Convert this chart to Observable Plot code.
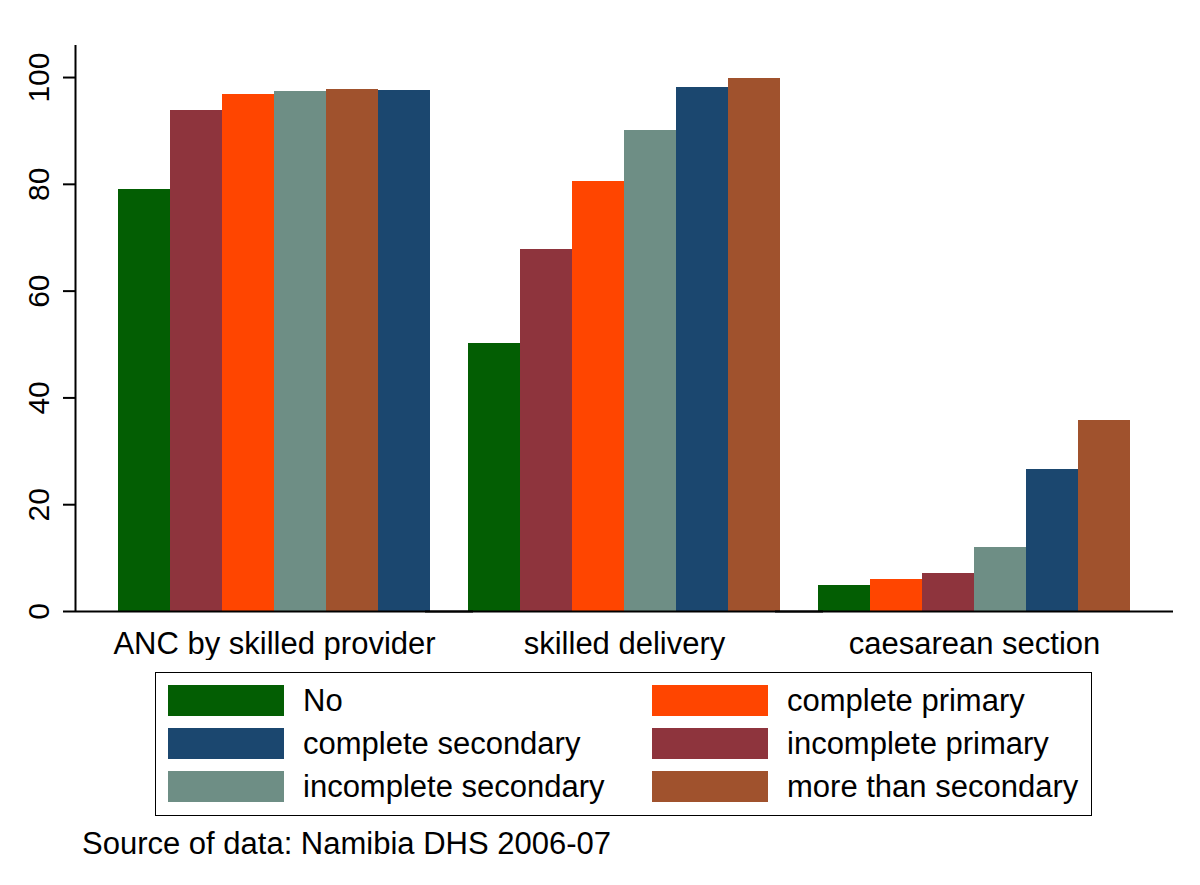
<!DOCTYPE html>
<html>
<head>
<meta charset="utf-8">
<script src="https://cdn.jsdelivr.net/npm/d3@7"></script>
<script src="https://cdn.jsdelivr.net/npm/@observablehq/plot@0.6"></script>
<style>
  body { margin: 0; background: #fff; font-family: "Liberation Sans", Arial, sans-serif; }
  #wrap { position: relative; width: 1200px; height: 885px; background: #fff; }
  #chart { position: absolute; left: 0; top: 0; }
  #legend {
    position: absolute; left: 155px; top: 672px; width: 937px; height: 144px;
    box-sizing: border-box; border: 1.5px solid #000;
    display: grid; grid-template-columns: 484px 440px; grid-auto-rows: 31px;
    row-gap: 12px; padding: 12px 0 0 12px;
  }
  .item { display: flex; align-items: center; font-size: 31px; color: #000; white-space: nowrap; }
  .sw { width: 116px; height: 31px; margin-right: 19px; flex: none; }
  #source { position: absolute; left: 82px; top: 826px; font-size: 31px; color: #000; white-space: nowrap; }
</style>
</head>
<body>
<div id="wrap">
  <div id="chart"></div>
  <div id="legend"></div>
  <div id="source">Source of data: Namibia DHS 2006-07</div>
</div>
<script>
// Categories (groups on the x axis)
const groups = ["ANC by skilled provider", "skilled delivery", "caesarean section"];
// Education levels (series)
const levels = ["No", "incomplete primary", "complete primary", "incomplete secondary", "complete secondary", "more than secondary"];
const levelColors = ["#035e03", "#8e343d", "#ff4500", "#6e8e85", "#1b476f", "#a0522d"];
// Values (%) per level, in the order of `levels`
const ancValues = [79.1, 93.9, 96.8, 97.4, 97.5, 97.7];
const deliveryValues = [50.2, 67.8, 80.5, 90.0, 98.1, 99.9];
const caesareanValues = [4.8, 7.1, 6.0, 12.0, 26.6, 35.7];
// Order of the bars within each group (as drawn, left to right)
const ancOrder = ["No", "incomplete primary", "complete primary", "incomplete secondary", "more than secondary", "complete secondary"];
const deliveryOrder = ["No", "incomplete primary", "complete primary", "incomplete secondary", "complete secondary", "more than secondary"];
const caesareanOrder = ["No", "complete primary", "incomplete primary", "incomplete secondary", "complete secondary", "more than secondary"];
// Legend order (row by row, two columns)
const legendOrder = ["No", "complete primary", "complete secondary", "incomplete primary", "incomplete secondary", "more than secondary"];
// Y tick labels
const yTicks = [0, 20, 40, 60, 80, 100];
const yMax = 106;

const seriesByGroup = [ancValues, deliveryValues, caesareanValues];
const orderByGroup = [ancOrder, deliveryOrder, caesareanOrder];
const rows = groups.flatMap((g, gi) => levels.map((l, li) => ({
  group: g, level: l, value: seriesByGroup[gi][li], pos: orderByGroup[gi].indexOf(l)
})));

const FONT = '"Liberation Sans", Arial, sans-serif';

const chart = Plot.plot({
  width: 1200,
  height: 660,
  marginTop: 45,
  marginBottom: 49,
  marginLeft: 117,
  marginRight: 69,
  style: { fontFamily: FONT, fontSize: "31px", color: "#000", background: "#fff" },
  fx: { domain: groups, paddingInner: 0.1029, paddingOuter: 0, label: null, axis: null },
  x: { domain: d3.range(levels.length), padding: 0, axis: null },
  y: { domain: [0, yMax], axis: null },
  color: { domain: levels, range: levelColors },
  marks: [
    Plot.barY(rows, { fx: "group", x: "pos", y: "value", fill: "level", shapeRendering: "crispEdges" }),
    Plot.ruleY([0], { insetLeft: -42, insetRight: -42, stroke: "#000", strokeWidth: 2 }),
    Plot.ruleX([groups[0]], { fx: d => d, x: null, y1: 0, y2: yMax, dx: -199, stroke: "#000", strokeWidth: 2 }),
    Plot.axisY(yTicks, { anchor: "left", tickSize: 12, dx: -42, strokeWidth: 2, tickFormat: () => "", label: null }),
    Plot.text(yTicks, {
      fx: () => groups[0], y: d => d, text: d => String(d),
      frameAnchor: "left", textAnchor: "middle", lineAnchor: "middle",
      rotate: -90, dx: -78, fontSize: 30, fill: "#000"
    }),
    Plot.axisFx({ anchor: "bottom", tickSize: 0, tickPadding: 20, fontSize: 31, label: null })
  ]
});
document.getElementById("chart").appendChild(chart);

const legend = d3.select("#legend");
legendOrder.forEach(l => {
  const item = legend.append("div").attr("class", "item");
  item.append("div").attr("class", "sw").style("background", levelColors[levels.indexOf(l)]);
  item.append("span").text(l);
});
</script>
</body>
</html>
